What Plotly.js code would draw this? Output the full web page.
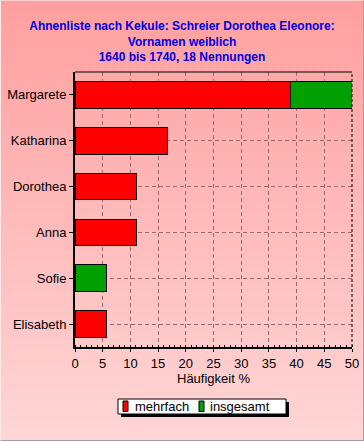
<!DOCTYPE html>
<html>
<head>
<meta charset="utf-8">
<script src="https://cdn.plot.ly/plotly-3.0.1.min.js"></script>
<style>
  html, body { margin: 0; padding: 0; }
  #wrap { position: relative; width: 364px; height: 441px; background: linear-gradient(#ff9f9f, #ffd6d6); }
  #chart { position: absolute; left: 0; top: 0; width: 364px; height: 441px; }
  #frame { position: absolute; left: 0; top: 0; width: 362px; height: 439px; border-left: 1px solid #ffe8e8; border-top: 1px solid #ffd0d0; border-right: 1px solid #a0a0a0; border-bottom: 1px solid #a0a0a0; pointer-events: none; }
</style>
</head>
<body>
<div id="wrap"><div id="chart"></div><div id="frame"></div></div>
<script>
const names = ["Margarete", "Katharina", "Dorothea", "Anna", "Sofie", "Elisabeth"];
const mehrfach = [38.9, 16.7, 11.1, 11.1, 0, 5.6];
const insgesamt = [11.1, 0, 0, 0, 5.6, 0];
const xTicks = [0, 5, 10, 15, 20, 25, 30, 35, 40, 45, 50];
const seriesNames = ["mehrfach", "insgesamt"];
const seriesColors = ["#ff0000", "#00a000"];

const traces = [
  { type: "bar", orientation: "h", name: seriesNames[0], y: names, x: mehrfach,
    marker: { color: seriesColors[0], line: { color: "#000000", width: 1 } }, hoverinfo: "none" },
  { type: "bar", orientation: "h", name: seriesNames[1], y: names, x: insgesamt,
    marker: { color: seriesColors[1], line: { color: "#000000", width: 1 } }, hoverinfo: "none" }
];

// plot area in pixels: x 75..352, y 72..347
const L = 75, R = 352, T = 72, B = 347;
const px = x => (x - L) / (R - L);
const py = y => (B - y) / (B - T);

const shapes = [
  { type: "line", xref: "paper", yref: "paper", x0: 0, x1: 1, y0: 1, y1: 1, line: { color: "#000000", width: 1 } },
  { type: "line", xref: "paper", yref: "paper", x0: 1, x1: 1, y0: 0, y1: 1, line: { color: "#000000", width: 1, dash: "3px,2px" } },
  // legend shadow
  { type: "rect", xref: "paper", yref: "paper", x0: px(121), x1: px(289), y0: py(402), y1: py(417), fillcolor: "#000000", line: { width: 0 } },
  // legend box
  { type: "rect", xref: "paper", yref: "paper", x0: px(118), x1: px(286), y0: py(399), y1: py(414), fillcolor: "#ffffff", line: { color: "#000000", width: 1 } },
  // legend symbols
  { type: "rect", xref: "paper", yref: "paper", x0: px(123), x1: px(128), y0: py(401), y1: py(411.5), fillcolor: seriesColors[0], line: { color: "#000000", width: 1 } },
  { type: "rect", xref: "paper", yref: "paper", x0: px(199), x1: px(204), y0: py(401), y1: py(411.5), fillcolor: seriesColors[1], line: { color: "#000000", width: 1 } }
];

const annotations = [
  { xref: "paper", yref: "paper", x: px(133), y: py(406.5), xanchor: "left", yanchor: "middle", text: seriesNames[0], showarrow: false, font: { size: 13, color: "#000000" } },
  { xref: "paper", yref: "paper", x: px(208), y: py(406.5), xanchor: "left", yanchor: "middle", text: seriesNames[1], showarrow: false, font: { size: 13, color: "#000000" } }
];

const layout = {
  width: 364, height: 441,
  margin: { l: L, r: 364 - R, t: T, b: 441 - B },
  paper_bgcolor: "rgba(0,0,0,0)",
  plot_bgcolor: "rgba(0,0,0,0)",
  barmode: "stack",
  bargap: 0.42,
  showlegend: false,
  font: { family: "Liberation Sans, Arial, sans-serif", size: 13, color: "#000000" },
  title: {
    text: "<b>Ahnenliste nach Kekule: Schreier Dorothea Eleonore:<br>Vornamen weiblich<br>1640 bis 1740, 18 Nennungen</b>",
    font: { family: "Liberation Sans, Arial, sans-serif", size: 12, color: "#0000dd" },
    x: 0.5, xanchor: "center", xref: "container",
    y: 1 - 30 / 441, yanchor: "top", yref: "container"
  },
  xaxis: {
    range: [0, 50], tickvals: xTicks, ticktext: xTicks.map(String),
    showline: true, linecolor: "#000000", linewidth: 2,
    ticks: "outside", ticklen: 3, tickcolor: "#000000",
    minor: { dtick: 1, ticks: "inside", ticklen: 2, tickcolor: "#000000", showgrid: false },
    showgrid: true, gridcolor: "#a06868", griddash: "4px,3px", gridwidth: 1,
    zeroline: false, fixedrange: true,
    tickfont: { size: 13 },
    title: { text: "Häufigkeit %", standoff: 4, font: { size: 13 } }
  },
  yaxis: {
    autorange: "reversed", type: "category",
    showline: true, linecolor: "#000000", linewidth: 2,
    ticks: "outside", ticklen: 4, tickcolor: "#000000",
    showgrid: true, gridcolor: "#a06868", griddash: "4px,3px", gridwidth: 1,
    zeroline: false, fixedrange: true,
    tickfont: { size: 13 }
  },
  shapes: shapes,
  annotations: annotations
};

Plotly.newPlot("chart", traces, layout, { displayModeBar: false, staticPlot: true });
</script>
</body>
</html>
